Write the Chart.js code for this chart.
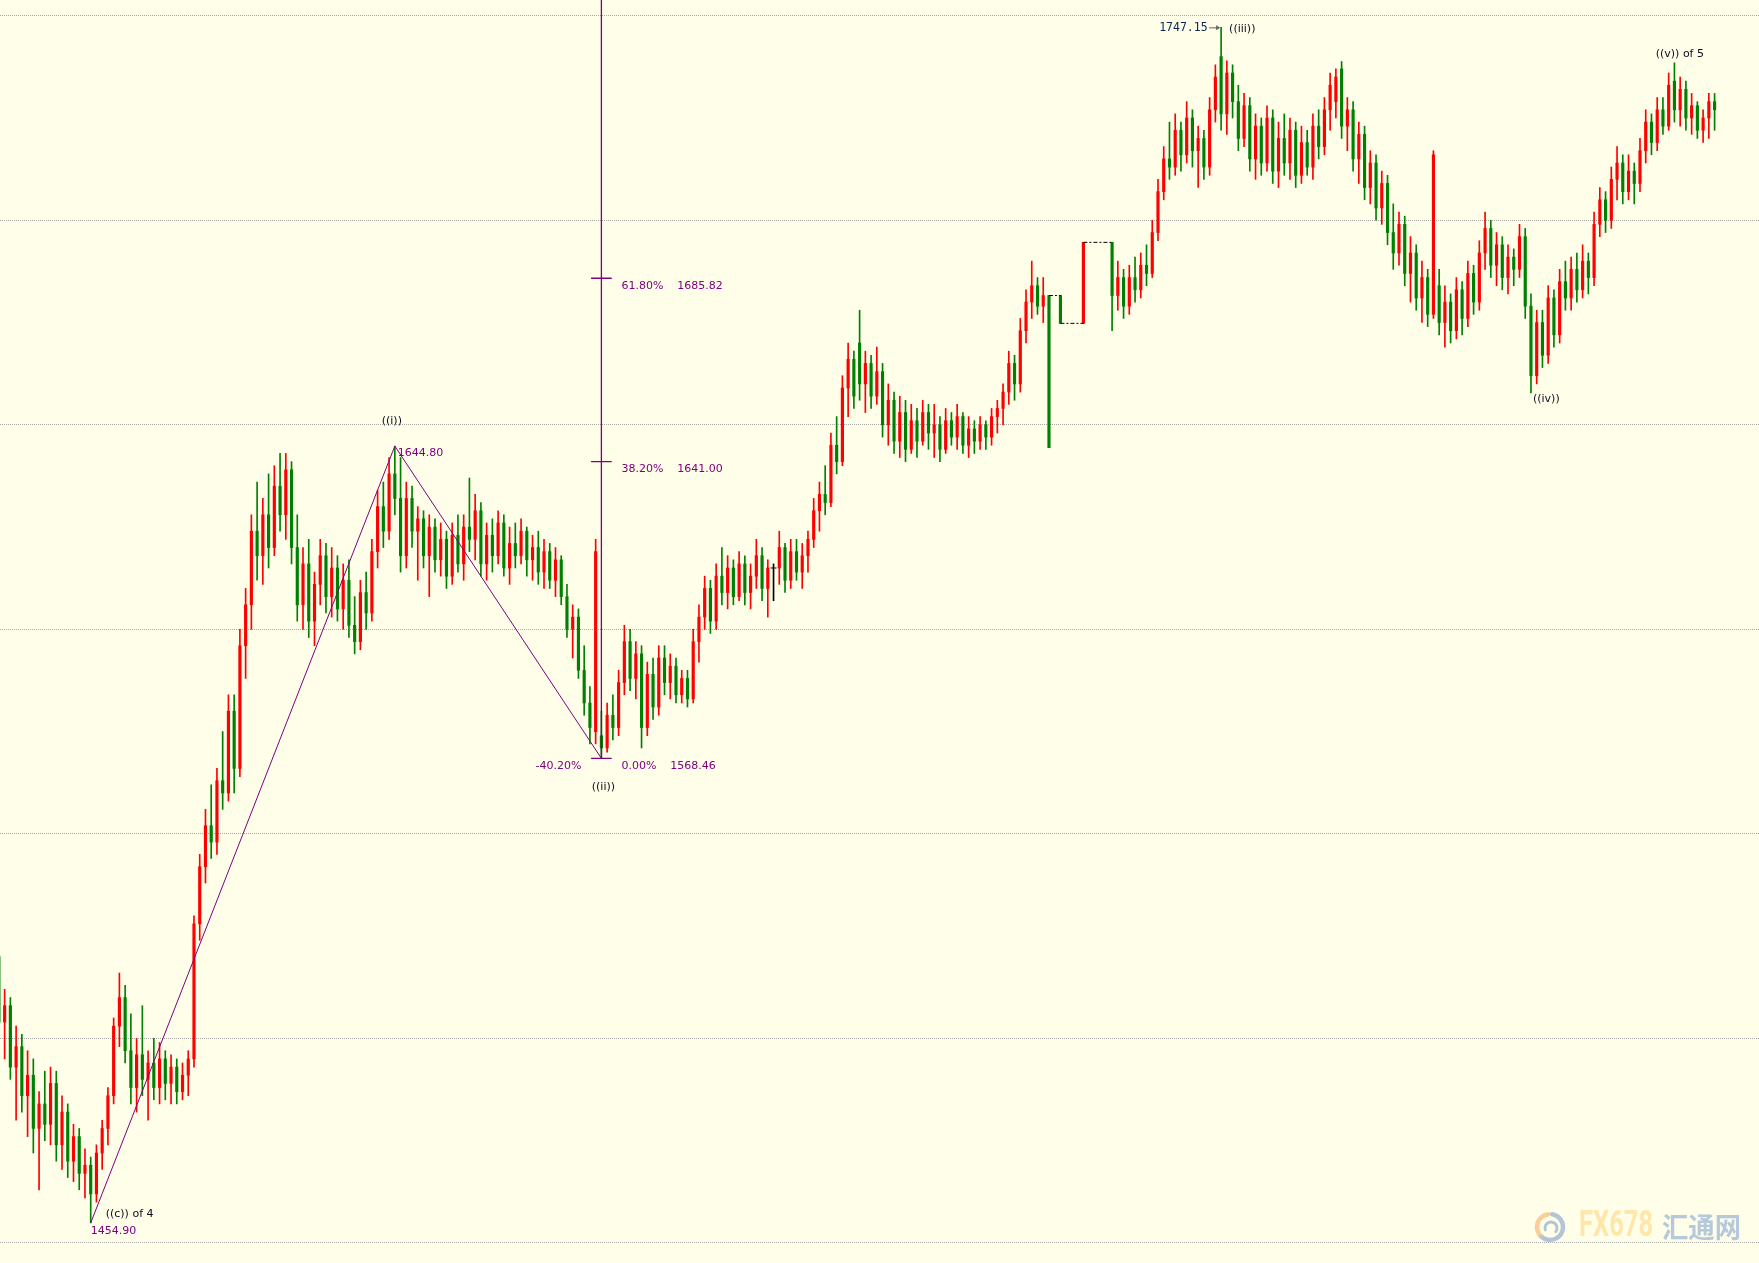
<!DOCTYPE html>
<html>
<head>
<meta charset="utf-8">
<script src="https://cdn.jsdelivr.net/npm/chart.js@4.4.0/dist/chart.umd.min.js"></script>
<style>
html, body { margin: 0; padding: 0; background: #fffee8; overflow: hidden; }
</style>
</head>
<body>
<canvas id="grafico" width="1759" height="1263"></canvas>
<script>
// barras (indice = posicao da barra)
const opens = [
1520,1504,1508,1493,1498,1486,1491,1478,1484,1479,
1489,1474,1482,1470,1476,1467,1469,1462,1472,1478,
1486,1503,1510,1497,1488,1496,1490,1494,1488,1495,
1489,1493,1487,1491,1495,1528,1542,1552,1548,1563,
1560,1580,1566,1596,1606,1624,1618,1628,1620,1635,
1628,1639,1620,1606,1616,1602,1611,1618,1608,1615,
1605,1612,1601,1597,1609,1604,1619,1630,1624,1638,
1632,1618,1632,1624,1627,1618,1625,1617,1622,1613,
1623,1616,1625,1622,1629,1616,1623,1618,1626,1615,
1621,1618,1624,1617,1620,1614,1619,1612,1617,1608,
1600,1603,1590,1582,1575,1574,1571,1579,1576,1587,
1597,1588,1594,1576,1589,1581,1593,1587,1591,1584,
1588,1583,1597,1603,1610,1602,1613,1609,1615,1608,
1616,1609,1613,1618,1610,1615,1615,1620,1612,1619,
1614,1618,1622,1629,1633,1631,1645,1641,1659,1666,
1670,1660,1665,1657,1663,1650,1656,1646,1653,1644,
1651,1646,1653,1648,1650,1644,1651,1647,1652,1645,
1649,1646,1650,1647,1652,1654,1658,1665,1660,1673,
1680,1684,1679,1681.6,null,1681.6,null,null,null,1674.8,
null,null,null,null,1694.6,1681.6,1686,1679,1686,1683,
1689,1687,1697,1707,1715,1713,1722,1716,1725,1717,
1720,1713,1727,1740,1726,1736,1729,1720,1728,1715,
1723,1714,1725,1712,1720,1714,1722,1711,1719,1713,
1723,1718,1727,1729,1737,1723,1727,1715,1721,1708,
1714,1703,1709,1697,1692,1699,1687,1692,1681,1686,
1677,1684,1675,1680,1673,1683,1676,1687,1680,1692,
1698,1689,1694,1686,1691,1688,1696,1679,1662,1675,
1667,1681,1672,1685,1681,1688,1683,1690,1686,1699,
1705,1700,1710,1714,1707,1712,1709,1717,1724,1719,
1727,1723,1734,1727,1732,1725,1728,1722,1725,1729
]
const highs = [
1522,1512,1510,1503,1501,1497,1495,1487,1492,1493,
1492,1486,1484,1479,1478,1473,1471,1474,1480,1488,
1505,1516,1513,1506,1500,1508,1497,1500,1499,1497,
1496,1495,1494,1497,1530,1545,1556,1562,1566,1575,
1584,1584,1600,1610,1628,1636,1632,1638,1640,1643,
1643,1641,1628,1620,1622,1614,1622,1621,1620,1618,
1616,1617,1608,1612,1614,1622,1634,1636,1642,1644.8,
1642,1636,1635,1630,1629,1628,1627,1626,1624,1626,
1628,1628,1637,1633,1631,1626,1627,1629,1628,1625,
1626,1627,1625,1623,1624,1622,1621,1620,1618,1611,
1606,1605,1596,1586,1622,1580,1582,1584,1590,1601,
1600,1597,1596,1592,1593,1596,1596,1594,1593,1590,
1590,1600,1606,1613,1612,1616,1620,1618,1617,1619,
1618,1616,1622,1620,1617,1616,1624,1621,1622,1622,
1621,1624,1632,1636,1640,1648,1652,1662,1670,1668,
1678,1668,1667,1669,1665,1660,1658,1657,1656,1655,
1654,1656,1655,1655,1652,1654,1653,1655,1653,1652,
1651,1652,1651,1654,1656,1660,1668,1667,1676,1683,
1690,1686,1686,1681.6,null,1681.6,null,null,null,1694.6,
null,null,null,null,1694.6,1690,1688,1689,1691,1692,
1694,1700,1710,1718,1724,1726,1724,1729,1727,1723,
1722,1730,1738,1747.15,1739,1738,1733,1731,1730,1726,
1725,1728,1727,1724,1726,1725,1724,1723,1722,1726,
1727,1730,1736,1737,1738.8,1730,1729,1724,1723,1717,
1716,1712,1711,1704,1702,1701,1696,1694,1690,1688,
1717,1688,1684,1682,1686,1685,1690,1689,1695,1702,
1700,1697,1696,1694,1693,1699,1698,1682,1678,1678,
1684,1683,1688,1690,1691,1692,1694,1692,1702,1708,
1707,1713,1718,1716,1716,1714,1720,1727,1726,1730,
1730,1736,1738.5,1735,1734,1731,1729,1727,1731,1731
]
const lows = [
1500,1495,1490,1480,1482,1476,1472,1463,1475,1474,
1470,1468,1466,1465,1463,1461,1454.9,1460,1468,1474,
1484,1498,1494,1484,1482,1486,1480,1485,1484,1485,
1484,1484,1485,1486,1493,1524,1538,1544,1545,1556,
1558,1560,1564,1588,1600,1612,1611,1615,1618,1624,
1622,1616,1602,1600,1598,1596,1606,1604,1603,1602,
1600,1598,1594,1595,1600,1602,1615,1620,1622,1628,
1614,1615,1620,1612,1615,1608,1614,1613,1610,1611,
1614,1612,1619,1617,1613,1612,1614,1616,1613,1611,
1615,1616,1613,1612,1611,1610,1610,1608,1606,1598,
1593,1588,1579,1572,1572,1568.46,1570,1573,1574,1584,
1585,1583,1571,1574,1578,1579,1584,1583,1582,1582,
1581,1582,1592,1600,1599,1600,1606,1605,1606,1607,
1606,1605,1610,1607,1603,1607,1611,1609,1610,1612,
1610,1614,1620,1624,1628,1630,1638,1640,1652,1654,
1656,1653,1654,1655,1647,1645,1643,1642,1641,1643,
1642,1645,1644,1642,1641,1643,1645,1644,1643,1642,
1643,1644,1644,1645,1648,1650,1655,1656,1658,1670,
1676,1677,1675,1644.4,null,1674.8,null,null,null,1674.8,
null,null,null,null,1673,1678,1676,1677,1680,1681,
1684,1686,1695,1705,1710,1711,1712,1714,1713,1708,
1710,1711,1724,1722,1721,1725,1717,1718,1712,1710,
1711,1712,1709,1708,1711,1710,1708,1709,1711,1710,
1715,1716,1722,1725,1720,1717,1712,1709,1705,1704,
1700,1699,1694,1688,1689,1684,1680,1678,1675,1674,
1676,1672,1669,1670,1671,1672,1674,1677,1678,1688,
1686,1684,1683,1682,1684,1686,1676,1657.8,1660,1664,
1665,1669,1670,1678,1678,1680,1681,1682,1684,1696,
1697,1698,1705,1704,1705,1704,1707,1714,1716,1717,
1721,1722,1724,1723,1722,1721,1720,1719,1720,1722
]
const closes = [
1504,1508,1493,1498,1486,1491,1478,1484,1479,1489,
1474,1482,1470,1476,1467,1469,1462,1472,1478,1486,
1503,1510,1497,1488,1496,1490,1494,1488,1495,1489,
1493,1487,1491,1495,1528,1542,1552,1548,1563,1560,
1580,1566,1596,1606,1624,1618,1628,1620,1635,1628,
1639,1620,1606,1616,1602,1611,1618,1608,1615,1605,
1612,1601,1597,1609,1604,1619,1630,1624,1638,1632,
1618,1632,1624,1627,1618,1625,1617,1622,1613,1623,
1616,1625,1622,1629,1616,1623,1618,1626,1615,1621,
1618,1624,1617,1620,1614,1619,1612,1617,1608,1600,
1603,1590,1582,1576,1619,1571,1579,1576,1587,1597,
1588,1594,1576,1589,1581,1593,1587,1591,1584,1588,
1583,1597,1603,1610,1602,1613,1609,1615,1608,1616,
1609,1613,1618,1610,1615,1615,1620,1612,1619,1614,
1618,1622,1629,1633,1631,1645,1641,1659,1666,1657,
1660,1665,1657,1663,1650,1656,1646,1653,1644,1651,
1646,1653,1648,1650,1644,1651,1647,1652,1645,1649,
1646,1650,1647,1652,1654,1658,1665,1660,1673,1680,
1684,1679,1681.6,1644.4,null,1674.8,null,null,null,1694.6,
null,null,null,null,1681.6,1686,1679,1686,1683,1689,
1687,1697,1707,1715,1713,1722,1716,1725,1717,1720,
1713,1727,1735,1726,1736,1729,1720,1728,1715,1723,
1714,1725,1712,1720,1714,1722,1711,1719,1713,1723,
1718,1727,1733,1735,1723,1727,1715,1721,1708,1714,
1703,1709,1697,1692,1699,1687,1692,1681,1686,1677,
1716,1675,1680,1673,1683,1676,1687,1680,1692,1698,
1689,1694,1686,1691,1688,1696,1679,1662,1675,1667,
1681,1672,1685,1681,1688,1683,1690,1686,1699,1705,
1700,1710,1714,1707,1712,1709,1717,1724,1719,1727,
1723,1733,1727,1732,1725,1728,1722,1725,1729,1727
]

// contagem de ondas: ((c)) -> ((i)) -> ((ii))
const waveIdx = [16, 69, 105]
const wavePrice = [1454.90, 1644.80, 1568.46]
// fibonacci desenhado em ((ii))
const fibLevels = [1568.46, 1641.00, 1685.82]
const fibPct = ['0.00%', '38.20%', '61.80%']
const fibSide = '-40.20%'
// barras isoladas no buraco de dados
const gapIdx = [183, 185, 189, 194]
// topos/fundos marcados
const topIII = {i: 213, p: 1747.15}
const fundoIV = {i: 267, p: 1657.8}
const topoV = {i: 292, p: 1738.5}

const VERMELHO = '#ff0000', VERDE = '#008000', ROXO = '#800080'

function corBarra(i) {
    if (closes[i] > opens[i]) return VERMELHO
    if (closes[i] < opens[i]) return VERDE
    return '#000000'
}

let pavios = [], corpos = [], dojis = []
for (let i = 0; i < opens.length; i++) {
    if (opens[i] == null) continue
    pavios.push({x: i, y: [lows[i], highs[i]]})
    if (opens[i] === closes[i]) {
        dojis.push({x: i, y: opens[i]})
    } else {
        corpos.push({x: i, y: [opens[i], closes[i]]})
    }
}

let ondas = waveIdx.map((x, k) => ({x: x, y: wavePrice[k]}))

let fibVert = [{x: waveIdx[2], y: 1753.84}, {x: waveIdx[2], y: fibLevels[0]}]
let fibTicks = []
fibLevels.forEach(v => {
    fibTicks.push({x: waveIdx[2] - 1.8, y: v}, {x: waveIdx[2] + 1.8, y: v}, {x: waveIdx[2], y: null})
})

let tracejado = []
for (let k = 0; k < gapIdx.length - 1; k++) {
    let nivel = opens[gapIdx[k + 1]]
    tracejado.push({x: gapIdx[k], y: nivel}, {x: gapIdx[k + 1], y: nivel}, {x: gapIdx[k + 1], y: null})
}

const fundo = {
    id: 'fundo',
    beforeDraw(chart) {
        const ctx = chart.ctx
        ctx.save()
        ctx.fillStyle = '#fffee8'
        ctx.fillRect(0, 0, chart.width, chart.height)
        ctx.restore()
    },
    beforeDatasetsDraw(chart) {
        // marca d'agua FX678
        const ctx = chart.ctx
        ctx.save()
        const cx = 1550, cy = 1227
        ctx.lineCap = 'round'
        ctx.lineWidth = 4.5
        ctx.strokeStyle = 'rgba(160,182,208,0.8)'
        ctx.beginPath(); ctx.arc(cx, cy, 13, -0.45 * Math.PI, 0.75 * Math.PI); ctx.stroke()
        ctx.strokeStyle = 'rgba(250,196,140,0.85)'
        ctx.beginPath(); ctx.arc(cx, cy, 13, 0.8 * Math.PI, 1.45 * Math.PI); ctx.stroke()
        ctx.lineWidth = 3
        ctx.strokeStyle = 'rgba(160,182,208,0.8)'
        ctx.beginPath(); ctx.arc(cx + 1, cy + 1, 6, 0.9 * Math.PI, 2.2 * Math.PI); ctx.stroke()

        ctx.textBaseline = 'middle'
        ctx.textAlign = 'left'
        ctx.font = 'bold 36px "Liberation Sans Narrow", "Roboto", sans-serif'
        let w = ctx.measureText('FX678').width
        let g = ctx.createLinearGradient(1579, 0, 1653, 0)
        g.addColorStop(0, '#ffe6aa')
        g.addColorStop(1, '#ffb49e')
        ctx.fillStyle = g
        ctx.save(); ctx.translate(1579, cy); ctx.scale(74 / w, 1); ctx.fillText('FX678', 0, 0); ctx.restore()

        ctx.font = 'bold 28px "Noto Sans CJK SC", sans-serif'
        w = ctx.measureText('汇通网').width
        ctx.fillStyle = '#b5c8dc'
        ctx.save(); ctx.translate(1662, cy); ctx.scale(79 / w, 1); ctx.fillText('汇通网', 0, 0); ctx.restore()
        ctx.restore()
    }
}

function escreve(ctx, s, x, y, cor, align, fonte) {
    ctx.font = fonte || '11px "DejaVu Sans", sans-serif'
    ctx.fillStyle = cor
    ctx.textAlign = align
    ctx.textBaseline = 'middle'
    ctx.fillText(s, x, y)
}

const rotulos = {
    id: 'rotulos',
    afterDatasetsDraw(chart) {
        const ctx = chart.ctx
        const px = v => chart.scales.x.getPixelForValue(v)
        const py = v => chart.scales.y.getPixelForValue(v)
        const ESCURO = '#0c0c20'
        ctx.save()

        // ((c)) of 4
        let x = px(waveIdx[0]), y = py(wavePrice[0])
        escreve(ctx, '((c)) of 4', x + 15, y - 9, ESCURO, 'left')
        escreve(ctx, wavePrice[0].toFixed(2), x, y + 8.5, ROXO, 'left')

        // ((i))
        x = px(waveIdx[1]); y = py(wavePrice[1])
        escreve(ctx, '((i))', x - 3, y - 24.5, ESCURO, 'center')
        escreve(ctx, wavePrice[1].toFixed(2), x + 3, y + 7, ROXO, 'left')

        // ((ii)) e fibonacci
        x = px(waveIdx[2])
        escreve(ctx, '((ii))', x + 2, py(wavePrice[2]) + 29, ESCURO, 'center')
        fibLevels.forEach((v, k) => {
            let yy = py(v) + 7.5
            escreve(ctx, fibPct[k], x + 20, yy, ROXO, 'left')
            let w = ctx.measureText(fibPct[k]).width
            escreve(ctx, v.toFixed(2), x + 20 + w + 14, yy, ROXO, 'left')
        })
        escreve(ctx, fibSide, x - 20, py(fibLevels[0]) + 7.5, ROXO, 'right')

        // ((iii)) com seta
        x = px(topIII.i); y = py(topIII.p)
        escreve(ctx, topIII.p.toFixed(2), x - 13.5, y + 1, '#0a2a55', 'right', '11.5px "DejaVu Sans Mono", monospace')
        ctx.strokeStyle = '#606060'
        ctx.fillStyle = '#606060'
        ctx.lineWidth = 1
        ctx.beginPath(); ctx.moveTo(x - 12, y + 0.5); ctx.lineTo(x - 3, y + 0.5); ctx.stroke()
        ctx.beginPath(); ctx.moveTo(x - 1, y + 0.5); ctx.lineTo(x - 5, y - 2); ctx.lineTo(x - 5, y + 3); ctx.closePath(); ctx.fill()
        escreve(ctx, '((iii))', x + 8, y + 1.5, ESCURO, 'left')

        // ((iv))
        escreve(ctx, '((iv))', px(fundoIV.i) + 2, py(fundoIV.p) + 6.5, ESCURO, 'left')
        // ((v)) of 5
        escreve(ctx, '((v)) of 5', px(topoV.i) - 18.7, py(topoV.p) - 8.4, ESCURO, 'left')

        ctx.restore()
    }
}

const cor = c => (c.raw ? corBarra(c.raw.x) : VERMELHO)

new Chart(document.getElementById('grafico'), {
    type: 'bar',
    data: {
        datasets: [
            {type: 'line', data: ondas, borderColor: ROXO, borderWidth: 1, pointRadius: 0, order: 0},
            {type: 'line', data: fibVert, borderColor: ROXO, borderWidth: 1.3, pointRadius: 0, order: 0},
            {type: 'line', data: fibTicks, borderColor: ROXO, borderWidth: 1.3, pointRadius: 0, spanGaps: false, order: 0},
            {type: 'line', data: tracejado, borderColor: '#000000', borderWidth: 1, borderDash: [4, 2, 2, 2], pointRadius: 0, spanGaps: false, order: 0},
            {type: 'scatter', data: dojis, pointStyle: 'line', radius: 3, borderColor: '#000000', borderWidth: 1, order: 1},
            {data: corpos, backgroundColor: cor, barThickness: 2.5, grouped: false, borderWidth: 0, order: 1},
            {data: pavios, backgroundColor: cor, barThickness: 1, grouped: false, borderWidth: 0, order: 2}
        ]
    },
    options: {
        responsive: false,
        animation: false,
        devicePixelRatio: 1,
        layout: {padding: 0, autoPadding: false},
        plugins: {
            legend: {display: false},
            tooltip: {enabled: false}
        },
        scales: {
            x: {type: 'linear', min: 0.193, max: 306.74, offset: false, display: false},
            y: {
                min: 1445.11,
                max: 1753.84,
                ticks: {display: false, stepSize: 50, includeBounds: false, padding: 0},
                grid: {color: '#a8a8a8', drawTicks: false, lineWidth: 1},
                border: {display: false, dash: [1, 1]}
            }
        }
    },
    plugins: [fundo, rotulos]
})
</script>
</body>
</html>
